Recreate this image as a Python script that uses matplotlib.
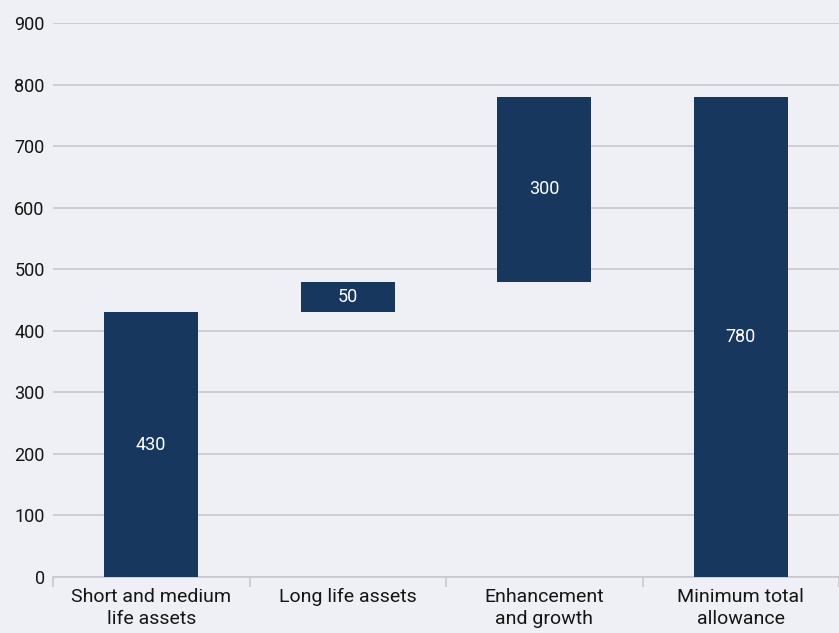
import matplotlib
matplotlib.use("Agg")
import matplotlib.pyplot as plt

categories = ["Short and medium\nlife assets", "Long life assets", "Enhancement\nand growth", "Minimum total\nallowance"]
values = [430, 50, 300, 780]
bases = [0, 430, 480, 0]
yticks = [0, 100, 200, 300, 400, 500, 600, 700, 800, 900]

bg = "#eff0f5"
bar_color = "#17375e"
grid_color = "#c9c9cd"
text_color = "#151515"

plt.rcParams["font.family"] = ["Roboto", "DejaVu Sans"]

fig = plt.figure(figsize=(8.39, 6.33), dpi=100, facecolor=bg)
ax = fig.add_axes([53 / 839, 56 / 633, 1 - 53 / 839, (577 - 23) / 633])
ax.set_facecolor(bg)

x = list(range(len(categories)))
ax.bar(x, values, bottom=bases, width=0.48, color=bar_color, zorder=3)
for xi, v, b in zip(x, values, bases):
    ax.text(xi, b + v / 2, f"{v}", ha="center", va="center", color="white",
            fontsize=13, zorder=4)

ax.set_ylim(0, 900)
ax.set_xlim(-0.5, 3.46)
ax.set_yticks(yticks)
ax.set_yticklabels([str(t) for t in yticks], fontsize=13, color=text_color)
ax.tick_params(axis="y", length=0, pad=6)
ax.yaxis.grid(True, color=grid_color, linewidth=1.2, zorder=0)

# category labels centred, separator ticks between categories
ax.set_xticks(x)
ax.set_xticklabels(categories, fontsize=14, color=text_color, linespacing=1.3)
ax.tick_params(axis="x", which="major", length=0, pad=8)
ax.set_xticks([-0.5, 0.5, 1.5, 2.5, 3.5], minor=True)
ax.tick_params(axis="x", which="minor", length=7, width=1.2, color=grid_color, direction="out")

for side in ["top", "right", "left"]:
    ax.spines[side].set_visible(False)
ax.spines["bottom"].set_color(grid_color)
ax.spines["bottom"].set_linewidth(1.2)

fig.savefig("out.png", dpi=100, facecolor=bg)
